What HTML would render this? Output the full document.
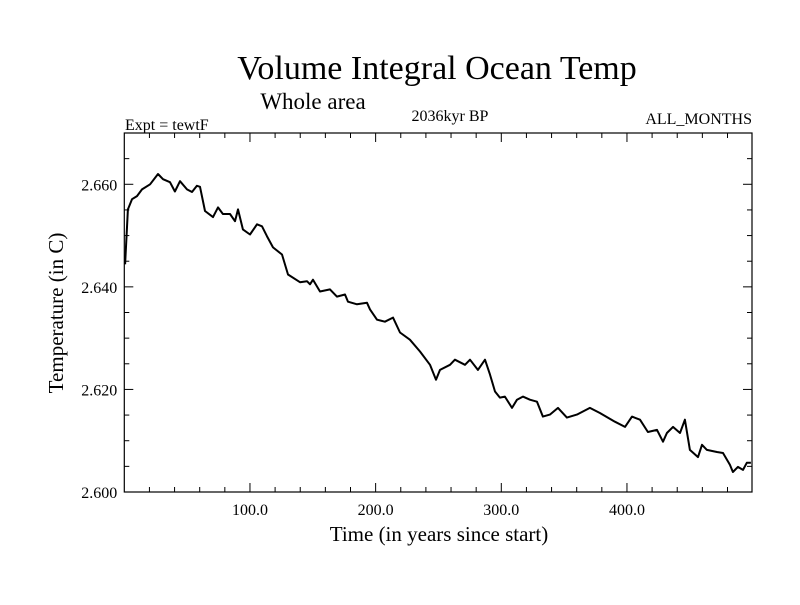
<!DOCTYPE html>
<html><head><meta charset="utf-8"><style>
body{margin:0;background:#fff;}
svg text{font-family:"Liberation Serif",serif;fill:#000;}
</style></head><body>
<svg id="chart" width="800" height="600" viewBox="0 0 800 600">
<rect width="800" height="600" fill="#fff"/>
<text x="437" y="79" font-size="34" text-anchor="middle">Volume Integral Ocean Temp</text>
<text x="313" y="109" font-size="23" text-anchor="middle">Whole area</text>
<text x="125" y="130" font-size="16">Expt = tewtF</text>
<text x="450" y="121" font-size="16" text-anchor="middle">2036kyr BP</text>
<text x="752" y="124" font-size="16" text-anchor="end">ALL_MONTHS</text>
<text x="439" y="541" font-size="21" text-anchor="middle">Time (in years since start)</text>
<text transform="translate(63,313) rotate(-90)" font-size="21" text-anchor="middle">Temperature (in C)</text>
<g id="axes"></g>
<path id="series" fill="none" stroke="#000" stroke-width="2" stroke-linejoin="round"/>
<rect x="124.3" y="133" width="627.7" height="359" fill="none" stroke="#000" stroke-width="1.2"/>
</svg>
<script>
const years=[0.6,2.9,6.1,10.1,14.1,20.5,26.8,30.8,36.4,40.3,44.3,49.9,53.9,57.8,60.2,64.2,70.6,74.6,78.5,84.1,88.1,90.5,94.4,100.0,105.6,109.6,113.5,118.3,125.5,130.3,139.8,145.4,147.8,150.2,155.7,163.7,169.2,175.6,178.0,185.2,193.1,195.5,201.1,207.4,213.8,219.4,227.3,235.3,243.3,248.0,251.2,259.2,263.1,271.1,275.1,281.4,287.0,291.0,295.0,298.9,302.9,308.5,312.5,317.2,322.8,328.4,333.1,338.7,345.1,352.2,360.2,370.5,378.5,390.4,398.4,404.0,410.4,416.7,423.9,428.7,431.8,436.6,442.2,446.1,450.1,456.5,459.7,463.6,471.6,476.4,481.9,484.3,488.3,492.3,495.4,498.6];
const temps=[2.6444,2.6551,2.6571,2.6577,2.6590,2.6600,2.6620,2.6610,2.6604,2.6586,2.6606,2.6590,2.6585,2.6597,2.6595,2.6548,2.6536,2.6555,2.6542,2.6542,2.6528,2.6551,2.6512,2.6502,2.6522,2.6518,2.6499,2.6477,2.6463,2.6424,2.6409,2.6411,2.6405,2.6414,2.6391,2.6395,2.6381,2.6385,2.6371,2.6366,2.6369,2.6356,2.6336,2.6332,2.6340,2.6311,2.6297,2.6274,2.6248,2.6219,2.6238,2.6248,2.6258,2.6248,2.6258,2.6238,2.6258,2.6229,2.6196,2.6184,2.6186,2.6164,2.6180,2.6186,2.6180,2.6176,2.6147,2.6151,2.6164,2.6145,2.6151,2.6164,2.6154,2.6137,2.6127,2.6147,2.6141,2.6117,2.6121,2.6098,2.6115,2.6127,2.6115,2.6141,2.6082,2.6068,2.6092,2.6082,2.6078,2.6076,2.6053,2.6039,2.6049,2.6043,2.6057,2.6057];
const xTicks=[100,200,300,400];
const xTickLabels=["100.0","200.0","300.0","400.0"];
const yTicks=[2.600,2.620,2.640,2.660];
const yTickLabels=["2.600","2.620","2.640","2.660"];
const X0=124.3,X1=752,Y0=492,Y1=133,xmin=0,xmax=499.5,ymin=2.600,ymax=2.670;
const sx=v=>X0+(v-xmin)/(xmax-xmin)*(X1-X0);
const sy=v=>Y0-(v-ymin)/(ymax-ymin)*(Y0-Y1);
const NS="http://www.w3.org/2000/svg";
const axes=document.getElementById('axes');
function line(x1,y1,x2,y2,name){const l=document.createElementNS(NS,'line');
l.setAttribute('x1',x1);l.setAttribute('y1',y1);l.setAttribute('x2',x2);l.setAttribute('y2',y2);
l.setAttribute('stroke','#000');l.setAttribute('stroke-width','1');


axes.appendChild(l);}
function text(x,y,s,anchor,name){const t=document.createElementNS(NS,'text');
t.setAttribute('x',x);t.setAttribute('y',y);t.setAttribute('font-size','16');t.setAttribute('text-anchor',anchor);t.textContent=s;


axes.appendChild(t);}
for(let v=20;v<xmax;v+=20){const x=sx(v);const major=v%100===0;const L=major?9:5;
line(x,Y0,x,Y0-L,'x-tick');line(x,Y1,x,Y1+L,'x-tick-top');}
for(let v=2.605;v<ymax-0.0001;v+=0.005){const y=sy(v);const major=Math.round(v*1000)%20===0;const L=major?9:5;
line(X0,y,X0+L,y,'y-tick');line(X1,y,X1-L,y,'y-tick-right');}
xTicks.forEach((v,i)=>text(sx(v),Y0+23,xTickLabels[i],'middle','x-tick-label'));
yTicks.forEach((v,i)=>text(X0-7,sy(v)+6,yTickLabels[i],'end','y-tick-label'));
let d='';years.forEach((v,i)=>{d+=(i?'L':'M')+sx(v).toFixed(1)+','+sy(temps[i]).toFixed(1);});
document.getElementById('series').setAttribute('d',d);
</script>
</body></html>
